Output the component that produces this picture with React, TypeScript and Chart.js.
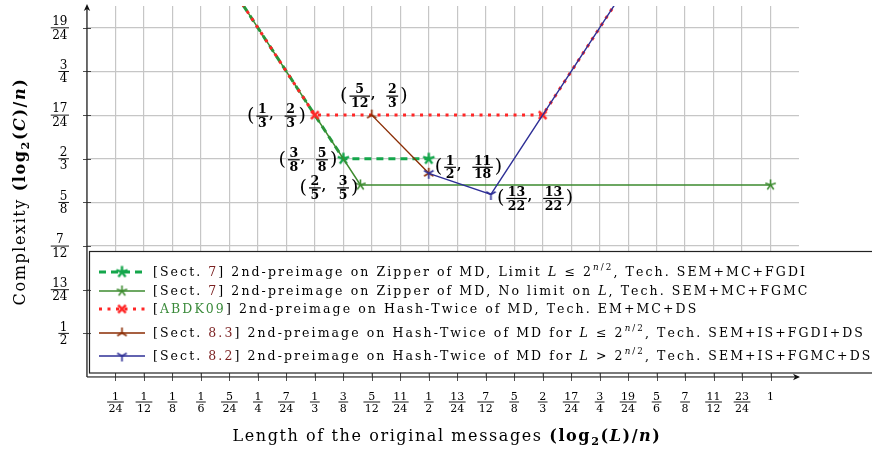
import React, { useEffect, useRef } from 'react';
import { Chart, registerables } from 'chart.js';

Chart.register(...registerables);

const SERIF = '"DejaVu Serif", serif';

// ---------- axes ----------
const xTickLabels = ['1/24', '1/12', '1/8', '1/6', '5/24', '1/4', '7/24', '1/3', '3/8', '5/12', '11/24', '1/2', '13/24', '7/12', '5/8', '2/3', '17/24', '3/4', '19/24', '5/6', '7/8', '11/12', '23/24', '1'];
const yTickLabels = ['1/2', '13/24', '7/12', '5/8', '2/3', '17/24', '3/4', '19/24'];
const xLimits = [0, 25 / 24];
const yLimits = [11 / 24, 13 / 16];

// ---------- series (values on the drawn axes) ----------
const zipperLimitX = [0.2, 3 / 8, 1 / 2];
const zipperLimitY = [0.8417, 2 / 3, 2 / 3];
const zipperLimitMarks = [0, 1, 1];

const zipperX = [0.2, 2 / 5, 1];
const zipperY = [0.8417, 0.6417, 0.6417];
const zipperMarks = [0, 1, 1];

const abdkX = [0.2, 1 / 3, 2 / 3, 0.8];
const abdkY = [0.8417, 17 / 24, 17 / 24, 0.8417];
const abdkMarks = [0, 1, 1, 0];

const ht83X = [5 / 12, 1 / 2];
const ht83Y = [17 / 24, 0.6528];
const ht83Marks = [1, 1];

const ht82X = [1 / 2, 13 / 22, 0.8];
const ht82Y = [0.6528, 0.6326, 0.8417];
const ht82Marks = [1, 1, 0];

// ---------- annotated points ----------
const annotX = [1 / 3, 5 / 12, 3 / 8, 2 / 5, 1 / 2, 13 / 22];
const annotY = [17 / 24, 17 / 24, 2 / 3, 0.6417, 0.6528, 0.6326];
const annotText = [['1/3', '2/3'], ['5/12', '2/3'], ['3/8', '5/8'], ['2/5', '3/5'], ['1/2', '11/18'], ['13/22', '13/22']];

// ---------- legend / titles ----------
type Seg = { t: string; role?: 'ref' | 'cite'; i?: boolean; b?: boolean; sup?: boolean; sub?: boolean };
const legendLabels: Seg[][] = [
  [{ t: '[Sect. ' }, { t: '7', role: 'ref' }, { t: '] 2nd-preimage on Zipper of MD, Limit ' }, { t: 'L', i: true }, { t: ' ≤ 2' }, { t: 'n', i: true, sup: true }, { t: '/2', sup: true }, { t: ', Tech. SEM+MC+FGDI' }],
  [{ t: '[Sect. ' }, { t: '7', role: 'ref' }, { t: '] 2nd-preimage on Zipper of MD, No limit on ' }, { t: 'L', i: true }, { t: ', Tech. SEM+MC+FGMC' }],
  [{ t: '[' }, { t: 'ABDK09', role: 'cite' }, { t: '] 2nd-preimage on Hash-Twice of MD, Tech. EM+MC+DS' }],
  [{ t: '[Sect. ' }, { t: '8.3', role: 'ref' }, { t: '] 2nd-preimage on Hash-Twice of MD for ' }, { t: 'L', i: true }, { t: ' ≤ 2' }, { t: 'n', i: true, sup: true }, { t: '/2', sup: true }, { t: ', Tech. SEM+IS+FGDI+DS' }],
  [{ t: '[Sect. ' }, { t: '8.2', role: 'ref' }, { t: '] 2nd-preimage on Hash-Twice of MD for ' }, { t: 'L', i: true }, { t: ' > 2' }, { t: 'n', i: true, sup: true }, { t: '/2', sup: true }, { t: ', Tech. SEM+IS+FGMC+DS' }],
];
const xTitle: Seg[] = [{ t: 'Length of the original messages ' }, { t: '(log', b: true }, { t: '2', b: true, sub: true }, { t: '(', b: true }, { t: 'L', b: true, i: true }, { t: ')/', b: true }, { t: 'n', b: true, i: true }, { t: ')', b: true }];
const yTitle: Seg[] = [{ t: 'Complexity ' }, { t: '(log', b: true }, { t: '2', b: true, sub: true }, { t: '(', b: true }, { t: 'C', b: true, i: true }, { t: ')/', b: true }, { t: 'n', b: true, i: true }, { t: ')', b: true }];

// ---------- styles ----------
const roleColors: Record<string, string> = { ref: '#7a1f1f', cite: '#3a8a3a' };
const seriesColors = ['#14a64b', '#3d8b2f', '#ff2626', '#8a2b02', '#2e2f96'];
const seriesWidths = [3, 1.5, 3, 1.4, 1.4];
const seriesDashes = [[7, 5], [], [3, 5.5], [], []];
const seriesMarkerKinds = ['star', 'star', 'x', 'triUp', 'triDown'];
const annotPlace = [
  { align: 'right', dx: -9, dy: 1 },
  { align: 'center', dx: 2, dy: -19 },
  { align: 'right', dx: -6, dy: 1 },
  { align: 'right', dx: -2, dy: 3 },
  { align: 'left', dx: 6, dy: -6 },
  { align: 'left', dx: 6, dy: 4 },
];
const legendRowBaselines = [276, 295, 313, 337, 360];

const fracVal = (s: string) => {
  const [n, d] = s.split('/');
  return d ? Number(n) / Number(d) : Number(n);
};

function makeMarker(kind: string, color: string, r: number, lw: number): HTMLCanvasElement {
  const s = Math.ceil(2 * r + lw + 4);
  const c = document.createElement('canvas');
  c.width = s;
  c.height = s;
  const g = c.getContext('2d')!;
  g.strokeStyle = color;
  g.lineWidth = lw;
  g.lineCap = 'butt';
  const cx = s / 2;
  const cy = s / 2;
  g.beginPath();
  if (kind === 'x') {
    g.moveTo(cx - r, cy - r);
    g.lineTo(cx + r, cy + r);
    g.moveTo(cx + r, cy - r);
    g.lineTo(cx - r, cy + r);
  } else {
    const angles = kind === 'star' ? [90, 162, 234, 306, 18] : kind === 'triUp' ? [90, 210, 330] : [270, 30, 150];
    for (const a of angles) {
      const rad = (a * Math.PI) / 180;
      g.moveTo(cx, cy);
      g.lineTo(cx + r * Math.cos(rad), cy - r * Math.sin(rad));
    }
  }
  g.stroke();
  return c;
}

function segFont(s: Seg, size: number) {
  const sz = s.sup || s.sub ? size * 0.7 : size;
  return `${s.i ? 'italic ' : ''}${s.b ? 'bold ' : ''}${sz}px ${SERIF}`;
}

function richWidth(ctx: CanvasRenderingContext2D, segs: Seg[], size: number, ls: number) {
  let w = 0;
  for (const s of segs) {
    ctx.font = segFont(s, size);
    for (const ch of s.t) w += ctx.measureText(ch).width + ls;
  }
  return w;
}

function charCount(segs: Seg[]) {
  return segs.reduce((a, s) => a + s.t.length, 0);
}

function drawRich(ctx: CanvasRenderingContext2D, segs: Seg[], x: number, y: number, size: number, ls: number) {
  ctx.textAlign = 'left';
  ctx.textBaseline = 'alphabetic';
  let cx = x;
  for (const s of segs) {
    ctx.font = segFont(s, size);
    ctx.fillStyle = s.role ? roleColors[s.role] : '#000';
    const dy = s.sup ? -size * 0.45 : s.sub ? size * 0.28 : 0;
    for (const ch of s.t) {
      ctx.fillText(ch, cx, y + dy);
      cx += ctx.measureText(ch).width + ls;
    }
  }
  return cx - x;
}

function fracWidth(ctx: CanvasRenderingContext2D, label: string, size: number, bold: boolean) {
  ctx.font = `${bold ? 'bold ' : ''}${size}px ${SERIF}`;
  const [n, d] = label.split('/');
  if (!d) return ctx.measureText(n).width;
  return Math.max(ctx.measureText(n).width, ctx.measureText(d).width) + size * 0.25;
}

function drawFrac(ctx: CanvasRenderingContext2D, label: string, cx: number, barY: number, size: number, bold: boolean) {
  ctx.font = `${bold ? 'bold ' : ''}${size}px ${SERIF}`;
  ctx.fillStyle = '#000';
  ctx.textAlign = 'center';
  ctx.textBaseline = 'alphabetic';
  const [n, d] = label.split('/');
  ctx.fillText(n, cx, barY - size * 0.22);
  if (!d) return;
  ctx.fillText(d, cx, barY + size * 0.16 + size * 0.73);
  const w = fracWidth(ctx, label, size, bold);
  ctx.fillRect(cx - w / 2, barY - (bold ? 0.6 : 0.45), w, bold ? 1.2 : 0.9);
}

function drawPair(ctx: CanvasRenderingContext2D, a: string, b: string, x: number, barY: number, align: string) {
  const fs = 12.5;
  const ps = 19;
  ctx.font = `${ps}px ${SERIF}`;
  const pw = ctx.measureText('(').width;
  const wa = fracWidth(ctx, a, fs, true);
  const wb = fracWidth(ctx, b, fs, true);
  ctx.font = `bold ${fs}px ${SERIF}`;
  const cw = ctx.measureText(',').width;
  const total = pw + 2 + wa + 1 + cw + 11 + wb + 2 + pw;
  let sx = align === 'right' ? x - total : align === 'center' ? x - total / 2 : x;
  ctx.fillStyle = '#000';
  ctx.font = `${ps}px ${SERIF}`;
  ctx.textAlign = 'left';
  ctx.textBaseline = 'middle';
  ctx.fillText('(', sx, barY);
  sx += pw + 2;
  drawFrac(ctx, a, sx + wa / 2, barY, fs, true);
  sx += wa + 1;
  ctx.font = `bold ${fs}px ${SERIF}`;
  ctx.textAlign = 'left';
  ctx.textBaseline = 'alphabetic';
  ctx.fillText(',', sx, barY + 2);
  sx += cw + 11;
  drawFrac(ctx, b, sx + wb / 2, barY, fs, true);
  sx += wb + 2;
  ctx.font = `${ps}px ${SERIF}`;
  ctx.textAlign = 'left';
  ctx.textBaseline = 'middle';
  ctx.fillText(')', sx, barY);
}

function arrowHead(ctx: CanvasRenderingContext2D, tx: number, ty: number, dir: 'up' | 'right') {
  ctx.save();
  ctx.translate(tx, ty);
  if (dir === 'right') ctx.rotate(Math.PI / 2);
  ctx.beginPath();
  ctx.moveTo(0, 0);
  ctx.lineTo(-3.2, 7);
  ctx.lineTo(0, 5);
  ctx.lineTo(3.2, 7);
  ctx.closePath();
  ctx.fillStyle = '#111';
  ctx.fill();
  ctx.restore();
}

export default function App() {
  const ref = useRef<HTMLCanvasElement>(null);

  useEffect(() => {
    document.body.style.margin = '0';
    const markers = seriesMarkerKinds.map((k, i) =>
      makeMarker(k, seriesColors[i], k === 'x' ? 3.8 : i === 0 ? 6 : 5.5, k === 'x' ? 2.6 : i === 0 ? 2.4 : 1.6)
    );
    const xs = [zipperLimitX, zipperX, abdkX, ht83X, ht82X];
    const ys = [zipperLimitY, zipperY, abdkY, ht83Y, ht82Y];
    const marks = [zipperLimitMarks, zipperMarks, abdkMarks, ht83Marks, ht82Marks];

    const datasets = xs.map((xv, si) => ({
      label: `s${si}`,
      data: xv.map((x, i) => ({ x, y: ys[si][i] })),
      showLine: true,
      borderColor: seriesColors[si],
      backgroundColor: seriesColors[si],
      borderWidth: seriesWidths[si],
      borderDash: seriesDashes[si],
      borderCapStyle: 'butt' as const,
      pointStyle: markers[si] as any,
      pointRadius: marks[si].map((m) => (m ? 5 : 0)),
      pointHoverRadius: 0,
      tension: 0,
      fill: false,
      order: 5 - si,
    }));

    const xGrid = [0, ...xTickLabels.map(fracVal)];
    const yGrid = [yLimits[0], ...yTickLabels.map(fracVal)];

    const overlay = {
      id: 'overlay',
      beforeDraw(chart: any) {
        const ctx = chart.ctx as CanvasRenderingContext2D;
        ctx.save();
        ctx.fillStyle = '#fff';
        ctx.fillRect(0, 0, chart.width, chart.height);
        ctx.restore();
      },
      afterDraw(chart: any) {
        const ctx = chart.ctx as CanvasRenderingContext2D;
        const xs_ = chart.scales.x;
        const ys_ = chart.scales.y;
        const area = chart.chartArea;
        ctx.save();

        // legend box
        const boxTop = 251.5;
        const boxBottom = 373;
        const boxLeft = 89.5;
        ctx.fillStyle = '#fff';
        ctx.fillRect(boxLeft, boxTop, chart.width, boxBottom - boxTop);
        ctx.strokeStyle = '#222';
        ctx.lineWidth = 1.2;
        ctx.strokeRect(boxLeft, boxTop, chart.width, boxBottom - boxTop);

        // axes
        ctx.strokeStyle = '#222';
        ctx.lineWidth = 1.2;
        ctx.beginPath();
        ctx.moveTo(area.left, area.bottom);
        ctx.lineTo(area.left, area.top + 2);
        ctx.moveTo(area.left, area.bottom);
        ctx.lineTo(area.right - 2, area.bottom);
        ctx.stroke();
        arrowHead(ctx, area.left, area.top - 2, 'up');
        arrowHead(ctx, area.right + 1, area.bottom, 'right');

        // ticks
        ctx.lineWidth = 0.8;
        ctx.beginPath();
        for (const lab of xTickLabels) {
          const px = Math.round(xs_.getPixelForValue(fracVal(lab))) + 0.5;
          ctx.moveTo(px, area.bottom - 4);
          ctx.lineTo(px, area.bottom + 4);
        }
        for (const lab of yTickLabels) {
          const py = Math.round(ys_.getPixelForValue(fracVal(lab))) + 0.5;
          ctx.moveTo(area.left - 4, py);
          ctx.lineTo(area.left + 4, py);
        }
        ctx.stroke();

        // tick labels
        for (const lab of xTickLabels) {
          const px = xs_.getPixelForValue(fracVal(lab));
          drawFrac(ctx, lab, px, area.bottom + 25, 11, false);
        }
        for (const lab of yTickLabels) {
          const py = ys_.getPixelForValue(fracVal(lab));
          const w = fracWidth(ctx, lab, 12, false);
          drawFrac(ctx, lab, area.left - 18 - w / 2, py, 12, false);
        }

        // point annotations
        annotX.forEach((x, i) => {
          const p = annotPlace[i];
          const px = xs_.getPixelForValue(x) + p.dx;
          const py = ys_.getPixelForValue(annotY[i]) + p.dy;
          drawPair(ctx, annotText[i][0], annotText[i][1], px, py, p.align);
        });

        // legend entries
        const lsize = 12.5;
        const lw0 = richWidth(ctx, legendLabels[0], lsize, 0);
        const ls = Math.max(0, (654 - lw0) / charCount(legendLabels[0]));
        legendLabels.forEach((segs, i) => {
          const base = legendRowBaselines[i];
          const ly = base - 4;
          ctx.save();
          ctx.strokeStyle = seriesColors[i];
          ctx.lineWidth = seriesWidths[i];
          ctx.setLineDash(seriesDashes[i]);
          ctx.lineCap = 'butt';
          ctx.beginPath();
          ctx.moveTo(99, ly);
          ctx.lineTo(145, ly);
          ctx.stroke();
          ctx.restore();
          const m = markers[i];
          ctx.drawImage(m, 122 - m.width / 2, ly - m.height / 2);
          drawRich(ctx, segs, 153, base, lsize, ls);
        });

        // titles
        const tsize = 16;
        const tw0 = richWidth(ctx, xTitle, tsize, 0);
        const tls = Math.max(-1, Math.min(3, (429 - tw0) / charCount(xTitle)));
        const tw = richWidth(ctx, xTitle, tsize, tls);
        drawRich(ctx, xTitle, (area.left + area.right) / 2 + 4 - tw / 2, 441, tsize, tls);
        const yw = richWidth(ctx, yTitle, tsize, tls);
        ctx.save();
        ctx.translate(25, (area.top + area.bottom) / 2);
        ctx.rotate(-Math.PI / 2);
        drawRich(ctx, yTitle, -yw / 2, 0, tsize, tls);
        ctx.restore();

        ctx.restore();
      },
    };

    const chart = new Chart(ref.current!, {
      type: 'scatter',
      data: { datasets: datasets as any },
      options: {
        responsive: false,
        animation: false,
        devicePixelRatio: 1,
        events: [],
        layout: { padding: { left: 87, top: 6, right: 73, bottom: 75 }, autoPadding: false },
        plugins: { legend: { display: false }, tooltip: { enabled: false } },
        scales: {
          x: {
            type: 'linear',
            min: xLimits[0],
            max: xLimits[1],
            afterBuildTicks: (s: any) => {
              s.ticks = xGrid.map((v) => ({ value: v }));
            },
            ticks: { display: false },
            grid: { color: '#c6c6c6', lineWidth: 1.2, drawTicks: false },
            border: { display: false },
          },
          y: {
            type: 'linear',
            min: yLimits[0],
            max: yLimits[1],
            afterBuildTicks: (s: any) => {
              s.ticks = yGrid.map((v) => ({ value: v }));
            },
            ticks: { display: false },
            grid: { color: '#c6c6c6', lineWidth: 1.2, drawTicks: false },
            border: { display: false },
          },
        },
      } as any,
      plugins: [overlay],
    });
    return () => chart.destroy();
  }, []);

  return (
    <div style={{ position: 'absolute', left: 0, top: 0, width: 872, height: 452 }}>
      <canvas ref={ref} width={872} height={452} style={{ display: 'block', width: 872, height: 452 }} />
    </div>
  );
}
